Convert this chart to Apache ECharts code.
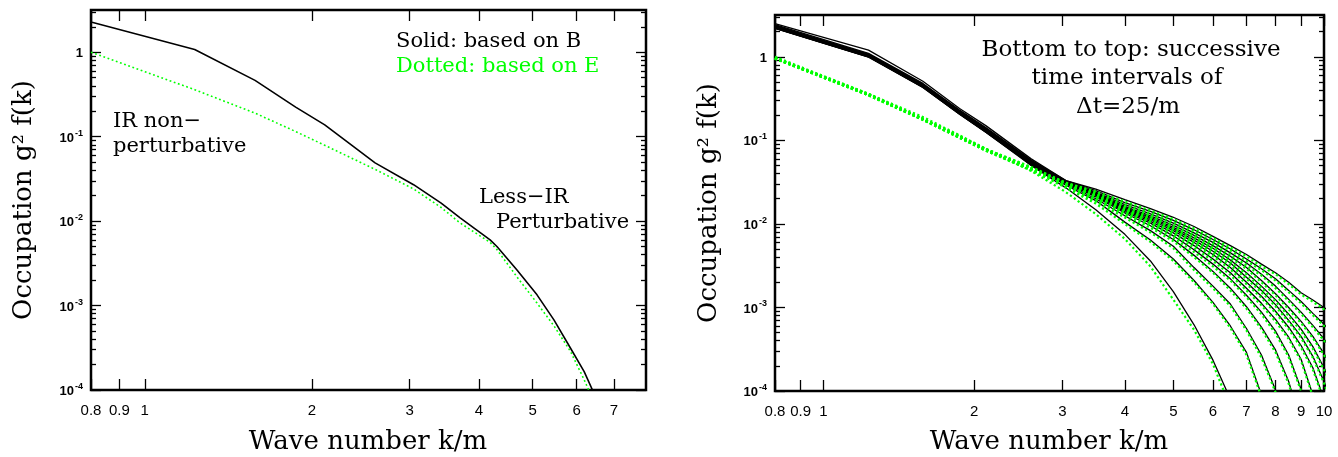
<!DOCTYPE html>
<html><head><meta charset="utf-8">
<script src="https://cdn.jsdelivr.net/npm/echarts@6/dist/echarts.min.js"></script>
<style>html,body{margin:0;padding:0;background:#fff}#c{width:1338px;height:457px}</style>
</head><body><div id="c"></div>
<script>
// ---------- Left panel data ----------
const kLeft = [0.8, 1.23, 1.58, 1.87, 2.11, 2.6, 3.05, 3.42, 3.70, 4.19, 4.31, 4.68, 5.09, 5.46, 5.85, 6.19, 6.5];
const solidLeft = [2.28, 1.076, 0.464, 0.224, 0.138, 0.049, 0.027, 0.0163, 0.0109, 0.0060, 0.0050, 0.00265, 0.00134, 0.000676, 0.000312, 0.000165, 0.000081];
const dottedLeft = [1.0, 0.36, 0.19, 0.115, 0.079, 0.041, 0.024, 0.0145, 0.0095, 0.0056, 0.0046, 0.0022, 0.00107, 0.000575, 0.000286, 0.000132, 0.000064];

// ---------- Right panel data (successive times, bottom to top) ----------
const kRight = [0.8, 1.23, 1.58, 1.87, 2.11, 2.6, 3.05, 3.5, 4.0, 4.5, 5.0, 5.5, 6.0, 6.5, 7.0, 7.5, 8.0, 8.5, 9.0, 9.5, 10.0, 10.5];
const solidT1  = [2.28,1.076,0.464,0.224,0.138,0.050, .027,.0148,.0075,.0036,.00155,.00062,.000234,.00008,null,null,null,null,null,null,null,null];
const solidT2  = [2.20,1.00,0.43,0.205,0.125,0.050, .029,.019,.0105,.0064,.0038,.0021,.00115,.0006,.00029,.00009,.00003,null,null,null,null,null];
const solidT3  = [2.18,0.99,0.43,0.205,0.125,0.051, .030,.020,.0125,.0083,.0054,.0030,.0018,.0011,.00056,.00027,.000103,.00003,null,null,null,null];
const solidT4  = [2.20,1.00,0.435,0.208,0.127,0.052, .031,.021,.0135,.0095,.0065,.0042,.0027,.0017,.00102,.00058,.00031,.00013,.00004,null,null,null];
const solidT5  = [2.22,1.01,0.44,0.21,0.128,0.052, .031,.0215,.014,.0102,.0072,.0049,.0033,.0022,.0014,.00088,.00052,.00027,.000105,.00004,null,null];
const solidT6  = [2.25,1.02,0.445,0.212,0.13,0.053, .032,.022,.0145,.0107,.0078,.0055,.0038,.0026,.0017,.00112,.00072,.00044,.00024,.00009,.00003,null];
const solidT7  = [2.27,1.03,0.45,0.215,0.132,0.054, .032,.0225,.015,.0112,.0083,.006,.0043,.003,.002,.00136,.0009,.00058,.00035,.00019,.00008,.00003];
const solidT8  = [2.30,1.04,0.455,0.218,0.133,0.054, .032,.0228,.0154,.0116,.0087,.0064,.0047,.0034,.0023,.0016,.00108,.0007,.00045,.00026,.00013,.00006];
const solidT9  = [2.32,1.05,0.46,0.22,0.135,0.055, .032,.023,.0158,.012,.0091,.0068,.0051,.0037,.0026,.0018,.00124,.00083,.00055,.00034,.00019,.0001];
const solidT10 = [2.35,1.06,0.465,0.222,0.137,0.056, .0325,.0235,.0162,.0125,.0096,.0073,.0055,.0041,.003,.0021,.00146,.001,.00068,.00045,.00028,.00016];
const solidT11 = [2.38,1.07,0.47,0.225,0.139,0.057, .0325,.024,.017,.0132,.0102,.0078,.006,.0045,.0034,.0025,.0018,.00125,.00088,.00061,.00042,.00027];
const solidT12 = [2.42,1.10,0.48,0.23,0.142,0.058, .033,.025,.018,.0141,.011,.0085,.0065,.005,.0038,.0029,.0022,.0016,.00118,.00085,.00063,.00045];
const solidT13 = [2.50,1.20,0.51,0.24,0.15,0.060, .033,.026,.0195,.0152,.012,.0093,.0071,.0055,.0043,.0033,.0026,.002,.0015,.00123,.001,.00082];

const dottedT1  = [1.0,0.36,0.19,0.115,0.079,0.043, .024,.0131,.0066,.0031,.00124,.00054,.00021,.000064,null,null,null,null,null,null,null,null];
const dottedT2  = [0.95,0.345,0.175,0.107,0.075,0.044, .027,.0175,.0100,.0061,.0036,.002,.0011,.00057,.00027,.000085,.000028,null,null,null,null,null];
const dottedT3  = [0.95,0.345,0.176,0.107,0.075,0.044, .028,.0185,.0119,.0079,.0051,.0028,.0017,.00104,.00053,.00025,.000097,.000028,null,null,null,null];
const dottedT4  = [0.95,0.347,0.177,0.108,0.076,0.045, .0285,.0195,.0128,.009,.0062,.004,.0026,.0016,.00097,.00055,.00029,.000122,.000037,null,null,null];
const dottedT5  = [0.955,0.348,0.177,0.108,0.076,0.045, .029,.02,.0133,.0097,.0068,.0046,.0031,.0021,.00133,.00083,.00049,.000255,.0001,.000038,null,null];
const dottedT6  = [0.955,0.35,0.178,0.109,0.077,0.0455, .029,.0205,.0138,.0102,.0074,.0052,.0036,.00245,.0016,.00106,.00068,.00042,.000228,.000086,.000028,null];
const dottedT7  = [0.96,0.35,0.178,0.109,0.077,0.046, .0295,.021,.0143,.0106,.0079,.0057,.0041,.00285,.0019,.0013,.00086,.00055,.00033,.00018,.000076,.000028];
const dottedT8  = [0.96,0.352,0.179,0.11,0.077,0.046, .0295,.0212,.0147,.011,.0083,.0061,.0045,.0032,.0022,.00152,.00103,.00067,.00043,.00025,.000124,.000057];
const dottedT9  = [0.96,0.353,0.179,0.11,0.078,0.046, .03,.0215,.015,.0114,.0087,.0065,.0049,.0035,.0025,.0017,.00118,.00079,.00052,.00032,.00018,.000095];
const dottedT10 = [0.965,0.355,0.18,0.11,0.078,0.0465, .03,.022,.0154,.0119,.0091,.007,.0052,.0039,.0029,.002,.0014,.00095,.00065,.00043,.00027,.00015];
const dottedT11 = [0.965,0.356,0.18,0.111,0.078,0.047, .0305,.0225,.0162,.0126,.0097,.0074,.0057,.0043,.0032,.0024,.0017,.00119,.00084,.00058,.0004,.00026];
const dottedT12 = [0.97,0.358,0.181,0.112,0.079,0.047, .031,.0235,.0171,.0134,.0105,.0081,.0062,.0048,.0036,.0028,.0021,.00152,.00112,.00081,.0006,.00043];
const dottedT13 = [0.97,0.36,0.182,0.113,0.079,0.048, .031,.0245,.0185,.0145,.0114,.0088,.0068,.0052,.0041,.0031,.0025,.0019,.00143,.00117,.00095,.00078];

// ---------- Tick labels ----------
const xTicksLeft = [0.8, 0.9, 1, 2, 3, 4, 5, 6, 7];
const xTicksRight = [0.8, 0.9, 1, 2, 3, 4, 5, 6, 7, 8, 9, 10];
const yMajorTicks = [1e-4, 1e-3, 1e-2, 1e-1, 1];
const yMinorMultipliers = [2, 3, 4, 5, 6, 7, 8, 9];

const solidRight = [solidT1,solidT2,solidT3,solidT4,solidT5,solidT6,solidT7,solidT8,solidT9,solidT10,solidT11,solidT12,solidT13];
const dottedRight = [dottedT1,dottedT2,dottedT3,dottedT4,dottedT5,dottedT6,dottedT7,dottedT8,dottedT9,dottedT10,dottedT11,dottedT12,dottedT13];

const L = Math.log10;
const Y_MIN = -4, Y_MAX = 0.5;
function pairs(ks, vs) {
  const out = [];
  for (let i = 0; i < ks.length; i++) if (vs[i] != null) out.push([L(ks[i]), L(vs[i])]);
  return out;
}
function fmtY(v) {
  const n = Math.round(v);
  if (n === 0) return '{b|1}';
  return '{b|10}{s|' + n + '}';
}
function fmtX(v) { return String(+Math.pow(10, v).toPrecision(2)); }

const yMajorLog = yMajorTicks.map(L);
const yMinorLog = [];
yMajorTicks.forEach(b => yMinorMultipliers.forEach(m => { const v = L(b * m); if (v <= Y_MAX) yMinorLog.push(v); }));

const tickStyle = {color: '#000', width: 1.3};
const noLine = {show: false, onZero: false};
function makeXAxes(gi, ticks, xmin, xmax) {
  const vals = ticks.map(L);
  const base = {type: 'value', gridIndex: gi, min: L(xmin), max: L(xmax), splitLine: {show: false}, axisLine: noLine};
  return [
    Object.assign({}, base, {position: 'bottom',
      axisTick: {show: true, inside: true, length: 11, customValues: vals, lineStyle: tickStyle},
      axisLabel: {show: true, customValues: vals, formatter: fmtX, margin: 13, fontSize: 15, color: '#000',
        fontFamily: 'Liberation Sans', showMinLabel: true, showMaxLabel: true, hideOverlap: false}}),
    Object.assign({}, base, {position: 'top',
      axisTick: {show: true, inside: true, length: 11, customValues: vals, lineStyle: tickStyle},
      axisLabel: {show: false}})
  ];
}
function makeYAxes(gi) {
  const base = {type: 'value', gridIndex: gi, min: Y_MIN, max: Y_MAX, splitLine: {show: false}, axisLine: noLine};
  return [
    Object.assign({}, base, {position: 'left',
      axisTick: {show: true, inside: true, length: 10, customValues: yMajorLog, lineStyle: tickStyle},
      axisLabel: {show: true, customValues: yMajorLog, formatter: fmtY, margin: 8, color: '#000',
        showMinLabel: true, showMaxLabel: true,
        rich: {
          b: {fontSize: 13, fontWeight: 'bold', fontFamily: 'Liberation Sans', color: '#000', lineHeight: 16, verticalAlign: 'bottom'},
          s: {fontSize: 9, fontWeight: 'bold', fontFamily: 'Liberation Sans', color: '#000', lineHeight: 10, verticalAlign: 'top', padding: [0, 0, 0, 1]}
        }}}),
    Object.assign({}, base, {position: 'left',
      axisTick: {show: true, inside: true, length: 5, customValues: yMinorLog, lineStyle: tickStyle}, axisLabel: {show: false}}),
    Object.assign({}, base, {position: 'right',
      axisTick: {show: true, inside: true, length: 10, customValues: yMajorLog, lineStyle: tickStyle}, axisLabel: {show: false}}),
    Object.assign({}, base, {position: 'right',
      axisTick: {show: true, inside: true, length: 5, customValues: yMinorLog, lineStyle: tickStyle}, axisLabel: {show: false}})
  ];
}

const GREEN = '#00ff00';
const series = [];
series.push({type: 'line', xAxisIndex: 0, yAxisIndex: 0, data: pairs(kLeft, solidLeft), showSymbol: false, symbol: 'none',
  lineStyle: {color: '#000', width: 1.6}, z: 3});
series.push({type: 'line', xAxisIndex: 0, yAxisIndex: 0, data: pairs(kLeft, dottedLeft), showSymbol: false, symbol: 'none',
  lineStyle: {color: GREEN, width: 1.6, type: [1.8, 2.6]}, z: 4});
solidRight.forEach(arr => series.push({type: 'line', xAxisIndex: 2, yAxisIndex: 4, data: pairs(kRight, arr),
  showSymbol: false, symbol: 'none', lineStyle: {color: '#000', width: 1.3}, z: 3}));
dottedRight.forEach(arr => series.push({type: 'line', xAxisIndex: 2, yAxisIndex: 4, data: pairs(kRight, arr),
  showSymbol: false, symbol: 'none', lineStyle: {color: GREEN, width: 2.2, type: [2.2, 2.6]}, z: 4}));

const serif = 'DejaVu Serif';
function txt(x, y, text, size, color, align, rot) {
  return {type: 'text', x: x, y: y, rotation: rot || 0, z: 100,
    style: {text: text, fontSize: size, fontFamily: serif, fill: color || '#000', align: align || 'left', verticalAlign: 'middle'}};
}

const chart = echarts.init(document.getElementById('c'), null, {renderer: 'canvas'});
chart.setOption({
  animation: false,
  backgroundColor: '#fff',
  grid: [
    {left: 91, top: 10, width: 555, height: 380, show: true, borderColor: '#000', borderWidth: 2.5, backgroundColor: 'transparent', outerBoundsMode: 'none'},
    {left: 775, top: 15, width: 549, height: 376, show: true, borderColor: '#000', borderWidth: 2.5, backgroundColor: 'transparent', outerBoundsMode: 'none'}
  ],
  xAxis: makeXAxes(0, xTicksLeft, 0.8, 8).concat(makeXAxes(1, xTicksRight, 0.8, 10)),
  yAxis: makeYAxes(0).concat(makeYAxes(1)),
  series: series,
  graphic: [
    txt(396, 42, 'Solid: based on B', 21, '#000'),
    txt(396, 67, 'Dotted: based on E', 21, GREEN),
    txt(113, 122, 'IR non\u2212', 21, '#000'),
    txt(113, 147, 'perturbative', 21, '#000'),
    txt(479, 198, 'Less\u2212IR', 21, '#000'),
    txt(496, 223, 'Perturbative', 21, '#000'),
    txt(1131, 50, 'Bottom to top: successive', 23, '#000', 'center'),
    txt(1127, 78, 'time intervals of', 23, '#000', 'center'),
    txt(1128, 107, '\u0394t=25/m', 23, '#000', 'center'),
    txt(368, 442, 'Wave number k/m', 26, '#000', 'center'),
    txt(1049, 442, 'Wave number k/m', 26, '#000', 'center'),
    txt(24, 200, 'Occupation g\u00B2 f(k)', 26, '#000', 'center', Math.PI / 2),
    txt(709, 203, 'Occupation g\u00B2 f(k)', 26, '#000', 'center', Math.PI / 2)
  ]
});
</script></body></html>
